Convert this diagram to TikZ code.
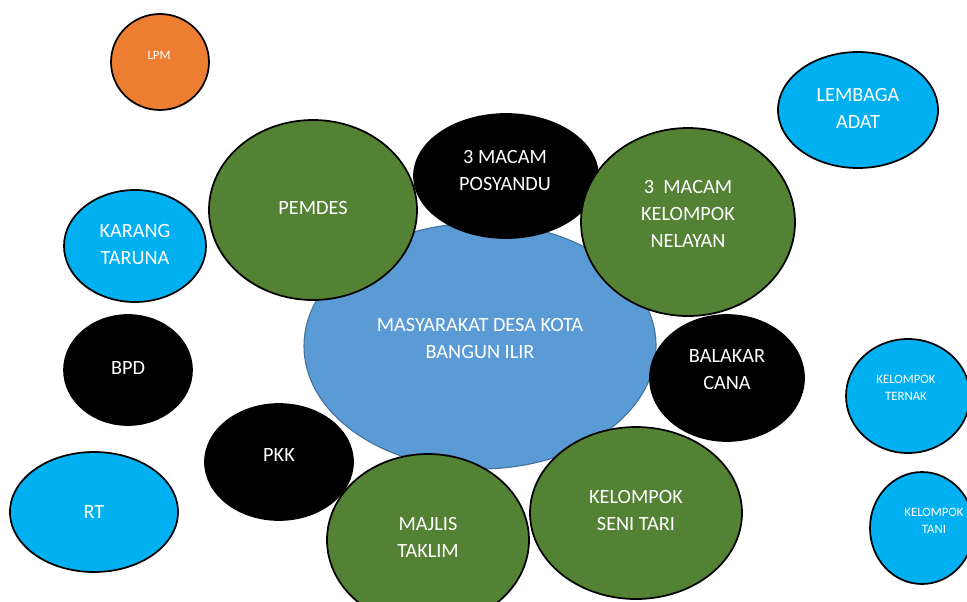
\documentclass[tikz,border=0pt]{standalone}
\usepackage{fontspec}
\setmainfont{Carlito}
\usetikzlibrary{shapes.geometric}
\definecolor{cgreen}{HTML}{548235}
\definecolor{ccyan}{HTML}{00B0F0}
\definecolor{cblue}{HTML}{5B9BD5}
\definecolor{cblueline}{HTML}{41719C}
\definecolor{corange}{HTML}{ED7D31}
\tikzset{
  bub/.style={ellipse, draw=black, line width=1.3pt, inner sep=0pt},
  gbub/.style={bub, fill=cgreen},
  kbub/.style={bub, fill=black},
  cbub/.style={bub, fill=ccyan},
  lbl/.style={text=white, align=center, inner sep=0pt, font=\fontsize{15.2pt}{20.25pt}\selectfont},
  slbl/.style={text=white, align=center, inner sep=0pt, font=\fontsize{9.6pt}{12.75pt}\selectfont},
}
\begin{document}
\begin{tikzpicture}[x=0.75pt,y=-0.75pt]
\useasboundingbox (0,0) rectangle (967,601);
\clip (0,0) rectangle (967,601);
% main
\node[ellipse, draw=cblueline, line width=0.8pt, fill=cblue, minimum width=264pt, minimum height=184.5pt] (masy) at (480,346) {};
\node[lbl] (masyt) at (480,338) {MASYARAKAT DESA KOTA\\BANGUN ILIR};
% around
\node[gbub, minimum width=156pt, minimum height=135pt] (pemdes) at (313,210) {};
\node[lbl] (pemdest) at (313,208) {PEMDES};
\node[kbub, minimum width=138pt, minimum height=93pt] (posy) at (506,176) {};
\node[lbl] (posyt) at (505,170) {3 MACAM\\POSYANDU};
\node[gbub, minimum width=160.5pt, minimum height=141pt] (nel) at (688,222) {};
\node[lbl] (nelt) at (688,214) {3\ \ MACAM\\KELOMPOK\\NELAYAN};
\node[kbub, minimum width=115.5pt, minimum height=94.5pt] (bal) at (727,378) {};
\node[lbl] (balt) at (727,370) {BALAKAR\\CANA};
\node[kbub, minimum width=111pt, minimum height=87pt] (pkk) at (279,462) {};
\node[lbl] (pkkt) at (279,455) {PKK};
\node[gbub, minimum width=151.5pt, minimum height=129pt] (maj) at (428,540) {};
\node[lbl] (majt) at (428,537) {MAJLIS\\TAKLIM};
\node[gbub, minimum width=159pt, minimum height=129pt] (seni) at (636,513) {};
\node[lbl] (senit) at (636,510) {KELOMPOK\\SENI TARI};
% outer
\node[bub, fill=corange, minimum width=73.5pt, minimum height=72pt] (lpm) at (160,62) {};
\node[slbl] (lpmt) at (159,55) {LPM};
\node[cbub, minimum width=120pt, minimum height=87pt] (lem) at (858,110) {};
\node[lbl] (lemt) at (858,108) {LEMBAGA\\ADAT};
\node[cbub, minimum width=106.5pt, minimum height=84pt] (kar) at (135,246) {};
\node[lbl] (kart) at (135,244) {KARANG\\TARUNA};
\node[kbub, minimum width=96pt, minimum height=82.5pt] (bpd) at (128,370) {};
\node[lbl] (bpdt) at (128,368) {BPD};
\node[cbub, minimum width=93pt, minimum height=85.5pt] (ter) at (908,396) {};
\node[slbl] (tert) at (906,388) {KELOMPOK\\TERNAK};
\node[cbub, minimum width=126pt, minimum height=90pt] (rt) at (94,512) {};
\node[lbl] (rtt) at (94,512) {RT};
\node[cbub, minimum width=78pt, minimum height=84pt] (tani) at (922,528) {};
\node[slbl] (tanit) at (934,521) {KELOMPOK\\TANI};
\end{tikzpicture}
\end{document}
